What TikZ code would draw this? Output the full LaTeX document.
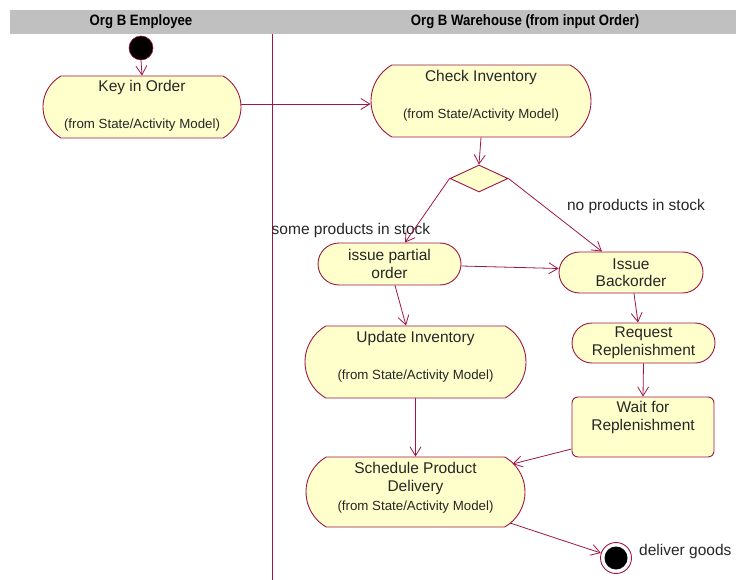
\documentclass[tikz,border=0pt]{standalone}
\usepackage{fontspec}
\setmainfont{Liberation Sans}
\newfontfamily\hdrfont[FakeStretch=0.88]{Liberation Sans}
\usetikzlibrary{shapes.misc,shapes.geometric,arrows.meta,calc}
\definecolor{rose}{RGB}{160,20,70}
\definecolor{actfill}{RGB}{255,255,204}
\definecolor{hdrgray}{RGB}{192,192,192}
\newcommand{\mainfs}{\fontsize{15.5}{17.5}\selectfont}
\newcommand{\fromfs}{\fontsize{13.3}{15}\selectfont}
\begin{document}
\begin{tikzpicture}[x=1pt,y=-1pt,
  lens/.style={rounded rectangle, rounded rectangle arc length=120, draw=rose, fill=actfill, line width=0.9pt, inner sep=0pt},
  stad/.style={rounded rectangle, draw=rose, fill=actfill, line width=0.9pt, inner sep=0pt, align=center, font=\mainfs, text=black!85},
  boxact/.style={rectangle, rounded corners=6pt, draw=rose, fill=actfill, line width=0.9pt, inner sep=0pt},
  txt/.style={inner sep=0pt, font=\mainfs, text=black!85, align=center},
  fromtxt/.style={inner sep=0pt, font=\fromfs, text=black!85},
  hdr/.style={inner sep=0pt, font=\hdrfont\bfseries\fontsize{15}{17}\selectfont},
  flow/.style={draw=rose, line width=0.8pt, -{Straight Barb[length=9pt,width=11pt]}}
]
\useasboundingbox (0,0) rectangle (736,580);
% header
\fill[hdrgray] (10,10) rectangle (736,34);
\node[hdr] (h1) at (141,22) {Org B Employee};
\node[hdr] (h2) at (525,22) {Org B Warehouse (from input Order)};
% swimlane divider
\draw[rose, line width=0.9pt] (272,34) -- (272,580);

% nodes
\node[circle, fill=black, draw=rose, line width=0.6pt, minimum size=24pt, inner sep=0pt] (init) at (141,48) {};

\node[lens, minimum width=198pt, minimum height=62pt] (ki) at (142,107) {};
\node[txt] (kit) at (142,87) {Key in Order};
\node[fromtxt] (kif) at (142,125) {(from State/Activity Model)};

\node[lens, minimum width=220pt, minimum height=72pt] (ci) at (481,101) {};
\node[txt] (cit) at (481,77) {Check Inventory};
\node[fromtxt] (cif) at (481,115) {(from State/Activity Model)};

\node[diamond, draw=rose, fill=actfill, line width=0.9pt, inner sep=0pt, minimum width=58pt, minimum height=27pt] (dec) at (479,178.5) {};

\node[stad, minimum width=143pt, minimum height=42pt] (ipo) at (389.5,264) {issue partial\\order};
\node[stad, minimum width=144pt, minimum height=41pt] (ib) at (631,272.5) {Issue\\Backorder};

\node[lens, minimum width=221pt, minimum height=72pt] (ui) at (415.5,362) {};
\node[txt] (uit) at (415.5,338) {Update Inventory};
\node[fromtxt] (uif) at (415.5,376) {(from State/Activity Model)};

\node[stad, minimum width=143pt, minimum height=40pt] (rr) at (643.5,343) {Request\\Replenishment};

\node[boxact, minimum width=142pt, minimum height=60pt] (wr) at (643,427) {};
\node[txt] (wrt) at (643,417.5) {Wait for\\Replenishment};

\node[lens, minimum width=219pt, minimum height=70pt] (sd) at (415.5,492) {};
\node[txt] (sdt) at (415.5,478.5) {Schedule Product\\Delivery};
\node[fromtxt] (sdf) at (415.5,507) {(from State/Activity Model)};

\node[circle, draw=rose, fill=white, line width=0.9pt, minimum size=31pt, inner sep=0pt] (fin) at (616,558) {};
\node[circle, fill=black, minimum size=23pt, inner sep=0pt] (finin) at (fin) {};
\node[txt, anchor=west] (dg) at (639,551) {deliver goods};

% labels
\node[txt] (lsome) at (351,230) {some products in stock};
\node[txt] (lno) at (636,206) {no products in stock};

% connectors
\draw[flow] (init.south) -- (ki.north);
\draw[flow] ($(ki.east)+(0,-3)$) -- ($(ci.west)+(0,3)$);
\draw[flow] (ci.south) -- (dec.north);
\draw[flow] (dec.west) -- ($(ipo.north)+(15.5,0)$);
\draw[flow] (dec.east) -- ($(ib.north)+(-29,0)$);
\draw[flow] ($(ipo.east)+(0,2)$) -- ($(ib.west)+(0,-4)$);
\draw[flow] ($(ipo.south)+(5.5,0)$) -- ($(ui.north)+(-9.5,0)$);
\draw[flow] ($(ib.south)+(3,0)$) -- ($(rr.north)+(-5.5,0)$);
\draw[flow] (rr.south) -- (wr.north);
\draw[flow] ($(wr.west)+(0,22)$) -- ($(sd.center)+(97,-28)$);
\draw[flow] (ui.south) -- (sd.north);
\draw[flow] ($(sd.center)+(94.5,31)$) -- (fin);
\end{tikzpicture}
\end{document}
